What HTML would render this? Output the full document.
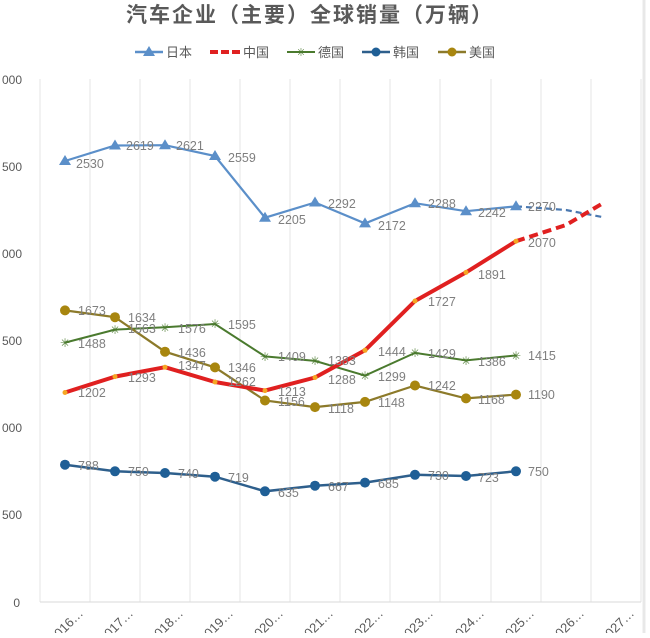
<!DOCTYPE html>
<html><head><meta charset="utf-8"><style>
html,body{margin:0;padding:0;background:#fff;}
svg text{font-family:"Liberation Sans","Noto Sans CJK SC",sans-serif;}
</style></head><body>
<svg width="650" height="633" viewBox="0 0 650 633" xmlns="http://www.w3.org/2000/svg">
<rect width="650" height="633" fill="#fff"/>
<text x="310" y="22" font-size="21" font-weight="bold" fill="#595959" text-anchor="middle" letter-spacing="2">汽车企业（主要）全球销量（万辆）</text>
<g font-size="13" fill="#595959">
<line x1="135" y1="52" x2="163" y2="52" stroke="#5b8fc9" stroke-width="2.5"/><path d="M149,46 L155,56 L143,56Z" fill="#5b8fc9"/><text x="166" y="57">日本</text>
<line x1="210" y1="52" x2="240" y2="52" stroke="#e02020" stroke-width="4" stroke-dasharray="8,3"/><text x="243" y="57">中国</text>
<line x1="287" y1="52" x2="315" y2="52" stroke="#4a7a2e" stroke-width="2"/><text x="301" y="56" font-size="11" fill="#4a7a2e" text-anchor="middle">✳</text><text x="318" y="57">德国</text>
<line x1="362" y1="52" x2="390" y2="52" stroke="#2e5f8c" stroke-width="2.5"/><circle cx="376" cy="52" r="4.5" fill="#1f5f96"/><text x="393" y="57">韩国</text>
<line x1="438" y1="52" x2="466" y2="52" stroke="#8c7a2a" stroke-width="2.5"/><circle cx="452" cy="52" r="4.5" fill="#a8860f"/><text x="469" y="57">美国</text>
</g>
<g stroke="#e6e6e6" stroke-width="1">
<line x1="40" y1="79" x2="40" y2="602"/><line x1="90" y1="79" x2="90" y2="602"/><line x1="140" y1="79" x2="140" y2="602"/><line x1="190" y1="79" x2="190" y2="602"/><line x1="240" y1="79" x2="240" y2="602"/><line x1="290" y1="79" x2="290" y2="602"/><line x1="340" y1="79" x2="340" y2="602"/><line x1="390" y1="79" x2="390" y2="602"/><line x1="440" y1="79" x2="440" y2="602"/><line x1="491" y1="79" x2="491" y2="602"/><line x1="541" y1="79" x2="541" y2="602"/><line x1="591" y1="79" x2="591" y2="602"/><line x1="641" y1="79" x2="641" y2="602"/>
<line x1="40" y1="602" x2="641" y2="602" stroke="#d9d9d9"/>
</g>
<line x1="644" y1="0" x2="644" y2="633" stroke="#e8e8e8" stroke-width="3"/>
<g font-size="12" fill="#595959" text-anchor="end">
<text x="22" y="84">000</text><text x="22" y="171">500</text><text x="22" y="258">000</text><text x="22" y="345">500</text><text x="22" y="432">000</text><text x="22" y="519">500</text><text x="20" y="607">0</text>
</g>
<g font-size="13" fill="#595959" text-anchor="end">
<text transform="translate(84,614) rotate(-45)">2016…</text>
<text transform="translate(134,614) rotate(-45)">2017…</text>
<text transform="translate(184,614) rotate(-45)">2018…</text>
<text transform="translate(234,614) rotate(-45)">2019…</text>
<text transform="translate(284,614) rotate(-45)">2020…</text>
<text transform="translate(334,614) rotate(-45)">2021…</text>
<text transform="translate(384,614) rotate(-45)">2022…</text>
<text transform="translate(434,614) rotate(-45)">2023…</text>
<text transform="translate(485,614) rotate(-45)">2024…</text>
<text transform="translate(535,614) rotate(-45)">2025…</text>
<text transform="translate(585,614) rotate(-45)">2026…</text>
<text transform="translate(635,614) rotate(-45)">2027…</text>
</g>
<polyline fill="none" stroke="#5b8fc9" stroke-width="2.2" points="65,161 115,145.5 165,145.2 215,156 265,217.7 315,202.5 365,223.4 415,203.2 466,211.2 516,206.3"/>
<polyline fill="none" stroke="#4a78b0" stroke-width="2.2" stroke-dasharray="6,4" points="516,206.3 566,210 602,217"/>
<g fill="#5b8fc9">
<path d="M65,155 L71,165 L59,165Z"/><path d="M115,139.5 L121,149.5 L109,149.5Z"/><path d="M165,139.2 L171,149.2 L159,149.2Z"/><path d="M215,150 L221,160 L209,160Z"/><path d="M265,211.7 L271,221.7 L259,221.7Z"/><path d="M315,196.5 L321,206.5 L309,206.5Z"/><path d="M365,217.4 L371,227.4 L359,227.4Z"/><path d="M415,197.2 L421,207.2 L409,207.2Z"/><path d="M466,205.2 L472,215.2 L460,215.2Z"/><path d="M516,200.3 L522,210.3 L510,210.3Z"/>
</g>
<polyline fill="none" stroke="#4a7a2e" stroke-width="2" points="65,342.6 115,329.6 165,327.3 215,324 265,356.4 315,360.9 365,375.6 415,352.9 466,360.4 516,355.4"/>
<g font-size="12" fill="#4a7a2e" text-anchor="middle">
<text x="65" y="347">✳</text><text x="115" y="334">✳</text><text x="165" y="332">✳</text><text x="215" y="328">✳</text><text x="265" y="361">✳</text><text x="315" y="365">✳</text><text x="365" y="380">✳</text><text x="415" y="357">✳</text><text x="466" y="365">✳</text><text x="516" y="360">✳</text>
</g>
<polyline fill="none" stroke="#8c7a2a" stroke-width="2.2" points="65,310.4 115,317.2 165,351.7 215,367.4 265,400.5 315,407.1 365,401.9 415,385.5 466,398.4 516,394.6"/>
<g fill="#a8860f">
<circle cx="65" cy="310.4" r="5"/><circle cx="115" cy="317.2" r="5"/><circle cx="165" cy="351.7" r="5"/><circle cx="215" cy="367.4" r="5"/><circle cx="265" cy="400.5" r="5"/><circle cx="315" cy="407.1" r="5"/><circle cx="365" cy="401.9" r="5"/><circle cx="415" cy="385.5" r="5"/><circle cx="466" cy="398.4" r="5"/><circle cx="516" cy="394.6" r="5"/>
</g>
<polyline fill="none" stroke="#e02020" stroke-width="4" stroke-linejoin="round" points="65,392.5 115,376.6 165,367.2 215,382 265,390.6 315,377.5 365,350.3 415,301 466,272.4 516,241.2"/>
<polyline fill="none" stroke="#e02020" stroke-width="4" stroke-dasharray="9,5" points="516,241.2 566,225 605,202"/>
<g fill="#f5a623"><circle cx="65" cy="392.5" r="2.5"/><circle cx="115" cy="376.6" r="2.5"/><circle cx="165" cy="367.2" r="2.5"/><circle cx="215" cy="382" r="2.5"/><circle cx="265" cy="390.6" r="2.5"/><circle cx="315" cy="377.5" r="2.5"/><circle cx="365" cy="350.3" r="2.5"/><circle cx="415" cy="301" r="2.5"/><circle cx="466" cy="272.4" r="2.5"/><circle cx="516" cy="241.2" r="2.5"/></g>
<polyline fill="none" stroke="#2e5f8c" stroke-width="2.5" points="65,464.7 115,471.3 165,473 215,476.7 265,491.3 315,485.7 365,482.6 415,474.8 466,476 516,471.3"/>
<g fill="#1f5f96">
<circle cx="65" cy="464.7" r="5"/><circle cx="115" cy="471.3" r="5"/><circle cx="165" cy="473" r="5"/><circle cx="215" cy="476.7" r="5"/><circle cx="265" cy="491.3" r="5"/><circle cx="315" cy="485.7" r="5"/><circle cx="365" cy="482.6" r="5"/><circle cx="415" cy="474.8" r="5"/><circle cx="466" cy="476" r="5"/><circle cx="516" cy="471.3" r="5"/>
</g>
<g font-size="12.5" fill="#7f7f7f">
<text x="76" y="168">2530</text><text x="126" y="150">2619</text><text x="176" y="150">2621</text><text x="228" y="162">2559</text><text x="278" y="224">2205</text><text x="328" y="208">2292</text><text x="378" y="230">2172</text><text x="428" y="208">2288</text><text x="478" y="217">2242</text><text x="528" y="211">2270</text>
<text x="528" y="247">2070</text><text x="478" y="279">1891</text><text x="428" y="306">1727</text><text x="378" y="356">1444</text><text x="328" y="384">1288</text><text x="278" y="396">1213</text><text x="228" y="386">1262</text><text x="178" y="370">1347</text><text x="128" y="382">1293</text><text x="78" y="397">1202</text>
<text x="78" y="348">1488</text><text x="128" y="333">1563</text><text x="178" y="333">1576</text><text x="228" y="329">1595</text><text x="278" y="361">1409</text><text x="328" y="365">1383</text><text x="378" y="381">1299</text><text x="428" y="358">1429</text><text x="478" y="366">1386</text><text x="528" y="360">1415</text>
<text x="78" y="315">1673</text><text x="128" y="322">1634</text><text x="178" y="357">1436</text><text x="228" y="372">1346</text><text x="278" y="406">1156</text><text x="328" y="413">1118</text><text x="378" y="407">1148</text><text x="428" y="390">1242</text><text x="478" y="404">1168</text><text x="528" y="399">1190</text>
<text x="78" y="470">788</text><text x="128" y="476">750</text><text x="178" y="478">740</text><text x="228" y="482">719</text><text x="278" y="497">635</text><text x="328" y="491">667</text><text x="378" y="488">685</text><text x="428" y="480">730</text><text x="478" y="482">723</text><text x="528" y="476">750</text>
</g>
</svg>
</body></html>
